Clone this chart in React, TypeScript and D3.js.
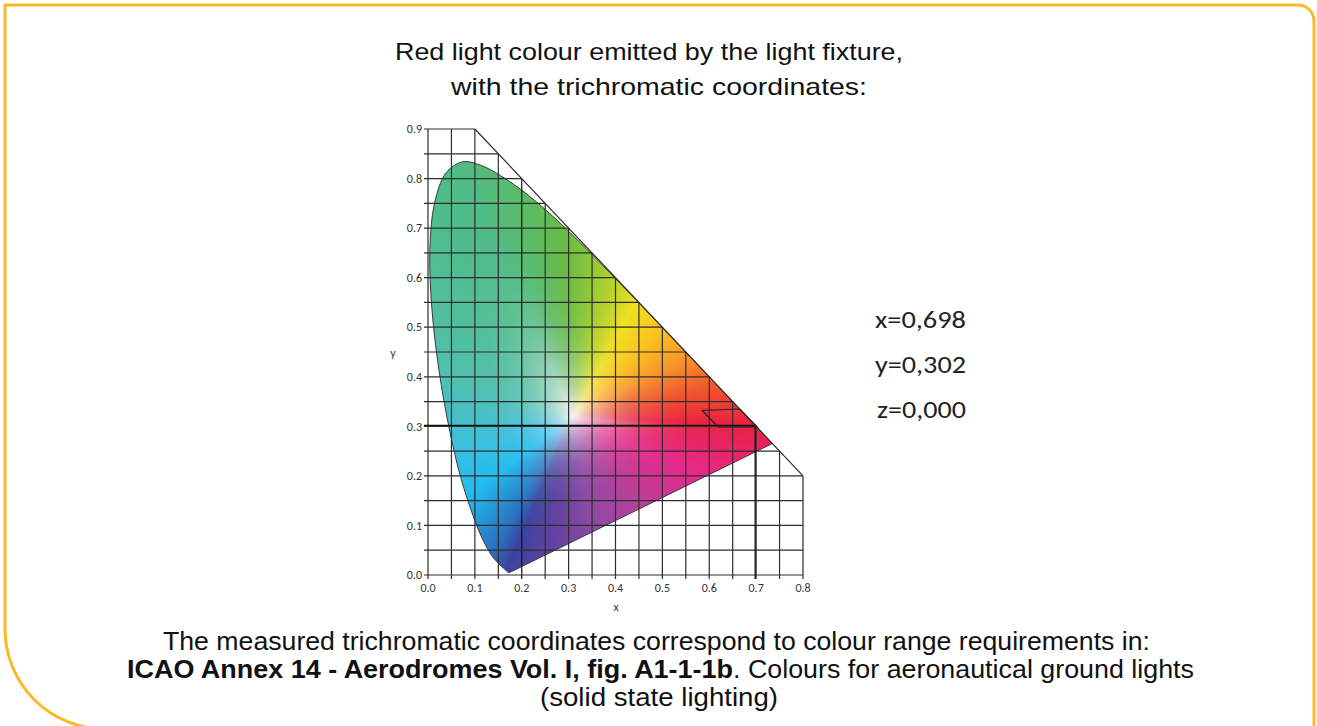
import React, { useMemo } from "react";
import * as d3 from "d3";

const W = 1317;
const H = 726;

// spectral locus of the CIE 1931 diagram, read along the edge of the coloured area
const locusX = [0.1741, 0.1733, 0.1726, 0.1714, 0.1689, 0.1644, 0.1566, 0.144, 0.1355, 0.1241, 0.1096, 0.0913, 0.0687, 0.0454, 0.0235, 0.0082, 0.0039, 0.0139, 0.0389, 0.0743, 0.1142, 0.1547, 0.1929, 0.2296, 0.2658, 0.3016, 0.3373, 0.3731, 0.4087, 0.4441, 0.4788, 0.5125, 0.5448, 0.5752, 0.6029, 0.627, 0.6658, 0.6915, 0.7079, 0.719, 0.726, 0.73, 0.7334, 0.7347];
const locusY = [0.005, 0.0048, 0.0048, 0.0051, 0.0069, 0.0109, 0.0177, 0.0297, 0.0399, 0.0578, 0.0868, 0.1327, 0.2007, 0.295, 0.4127, 0.5384, 0.6548, 0.7502, 0.812, 0.8338, 0.8262, 0.8059, 0.7816, 0.7543, 0.7243, 0.6923, 0.6589, 0.6245, 0.5896, 0.5547, 0.5202, 0.4866, 0.4544, 0.4242, 0.3965, 0.3725, 0.334, 0.3083, 0.292, 0.2809, 0.274, 0.27, 0.2666, 0.2653];

const xTickValues = [0, 0.1, 0.2, 0.3, 0.4, 0.5, 0.6, 0.7, 0.8];
const xTickLabels = ["0.0", "0.1", "0.2", "0.3", "0.4", "0.5", "0.6", "0.7", "0.8"];
const yTickValues = [0, 0.1, 0.2, 0.3, 0.4, 0.5, 0.6, 0.7, 0.8, 0.9];
const yTickLabels = ["0.0", "0.1", "0.2", "0.3", "0.4", "0.5", "0.6", "0.7", "0.8", "0.9"];
const gridX = [0, 0.05, 0.1, 0.15, 0.2, 0.25, 0.3, 0.35, 0.4, 0.45, 0.5, 0.55, 0.6, 0.65, 0.7, 0.75, 0.8];
const gridY = [0, 0.05, 0.1, 0.15, 0.2, 0.25, 0.3, 0.35, 0.4, 0.45, 0.5, 0.55, 0.6, 0.65, 0.7, 0.75, 0.8, 0.85, 0.9];

// ICAO red zone (solid state lighting)
const redZoneX = [0.585, 0.665, 0.702, 0.619];
const redZoneY = [0.332, 0.335, 0.299, 0.299];

const measuredX = 0.698;
const measuredY = 0.302;
const coordLabels = ["x=0,698", "y=0,302", "z=0,000"];

// colour wheel around the white point (angle in degrees -> colour)
const whiteX = 0.31;
const whiteY = 0.32;
const hueAngles = [9, 26, 42, 60, 76, 92, 102, 115, 137, 164, 196, 216, 238, 245, 258, 280, 308, 337, 351, 357];
const hueColors = ["#ef5030", "#f7962a", "#fcc020", "#f0e020", "#a8cf30", "#6abd42", "#5cbb60", "#4fbb85", "#50be98", "#50c0b0", "#38c0e0", "#20bcf0", "#2a70c0", "#3a44a0", "#6040a0", "#8c4aa5", "#b8409a", "#e62a8a", "#e8235e", "#ec2040"];

const xScale = d3.scaleLinear().domain([0, 0.8]).range([428, 803]);
const yScale = d3.scaleLinear().domain([0, 0.9]).range([575, 129]);

const topAt = (gx: number) => (gx <= 0.1 ? 0.9 : 1 - gx);
const rightAt = (gy: number) => (gy >= 0.9 ? 0.1 : Math.min(0.8, 1 - gy));

const hueColour = (a: number): string => {
  const n = hueAngles.length;
  for (let i = 0; i < n; i++) {
    const a0 = hueAngles[i];
    const a1 = i + 1 < n ? hueAngles[i + 1] : hueAngles[0] + 360;
    let aa = a;
    if (aa < a0) aa += 360;
    if (aa >= a0 && aa <= a1) {
      return d3.interpolateRgb(hueColors[i], hueColors[(i + 1) % n])((aa - a0) / (a1 - a0));
    }
  }
  return hueColors[0];
};

const App: React.FC = () => {
  const locusPts: [number, number][] = locusX.map((x, i) => [x, locusY[i]]);
  const locusPath =
    d3
      .line<[number, number]>()
      .x(d => xScale(d[0]))
      .y(d => yScale(d[1]))
      .curve(d3.curveCatmullRom)(locusPts) + "Z";

  const raster = useMemo(() => {
    const x0 = Math.floor(xScale(0)) - 2;
    const x1 = Math.ceil(xScale(0.75));
    const y0 = Math.floor(yScale(0.85));
    const y1 = Math.ceil(yScale(0)) + 2;
    const w = x1 - x0;
    const h = y1 - y0;
    const canvas = document.createElement("canvas");
    canvas.width = w;
    canvas.height = h;
    const ctx = canvas.getContext("2d");
    if (!ctx) return null;
    const img = ctx.createImageData(w, h);

    const poly = [...locusPts, locusPts[0]];
    const N = 720;
    const radii = new Float64Array(N);
    const cols: d3.RGBColor[] = [];
    for (let k = 0; k < N; k++) {
      const th = (k / N) * Math.PI * 2;
      const dx = Math.cos(th);
      const dy = Math.sin(th);
      let best = 1;
      for (let s = 0; s < poly.length - 1; s++) {
        const [ax, ay] = poly[s];
        const [bx, by] = poly[s + 1];
        const ex = bx - ax;
        const ey = by - ay;
        const den = dx * ey - dy * ex;
        if (Math.abs(den) < 1e-12) continue;
        const wx = ax - whiteX;
        const wy = ay - whiteY;
        const t = (wx * ey - wy * ex) / den;
        const u = (wx * dy - wy * dx) / den;
        if (t > 0 && u >= 0 && u <= 1 && t < best) best = t;
      }
      radii[k] = best;
      cols.push(d3.rgb(hueColour((k / N) * 360)));
    }

    const white = [246, 242, 244];
    for (let j = 0; j < h; j++) {
      const dy = yScale.invert(y0 + j + 0.5) - whiteY;
      for (let i = 0; i < w; i++) {
        const dx = xScale.invert(x0 + i + 0.5) - whiteX;
        let a = Math.atan2(dy, dx);
        if (a < 0) a += Math.PI * 2;
        const k = Math.min(N - 1, Math.floor((a / (Math.PI * 2)) * N));
        const t = Math.min(1, Math.sqrt(dx * dx + dy * dy) / radii[k]);
        const s = 1 - Math.pow(1 - t, 4);
        const c = cols[k];
        const p = (j * w + i) * 4;
        img.data[p] = white[0] * (1 - s) + c.r * s;
        img.data[p + 1] = white[1] * (1 - s) + c.g * s;
        img.data[p + 2] = white[2] * (1 - s) + c.b * s;
        img.data[p + 3] = 255;
      }
    }
    ctx.putImageData(img, 0, 0);
    return { href: canvas.toDataURL(), x: x0, y: y0, w, h };
  }, []);

  const gridStroke = "#2e2e2e";
  const tickFont = "Carlito, Lato, 'Open Sans', sans-serif";
  const textFont = "'Liberation Sans', Arial, sans-serif";
  const redZonePath = d3.line()(redZoneX.map((x, i) => [xScale(x), yScale(redZoneY[i])])) + "Z";

  return (
    <svg width={W} height={H} style={{ position: "absolute", left: 0, top: 0, background: "#fff" }}>
      <path
        d="M1314,740 V21 A16,16 0 0 0 1298,5 H5 V629 A100,100 0 0 0 105,729 H1314"
        fill="none"
        stroke="#fbb827"
        strokeWidth={3}
      />

      <g fontFamily={textFont} fontSize={24} fill="#111">
        <text x={395} y={60} textLength={508} lengthAdjust="spacingAndGlyphs">
          Red light colour emitted by the light fixture,
        </text>
        <text x={451} y={95} textLength={416} lengthAdjust="spacingAndGlyphs">
          with the trichromatic coordinates:
        </text>
      </g>

      <defs>
        <clipPath id="locus-clip">
          <path d={locusPath} />
        </clipPath>
      </defs>
      {raster && (
        <image
          href={raster.href}
          x={raster.x}
          y={raster.y}
          width={raster.w}
          height={raster.h}
          clipPath="url(#locus-clip)"
        />
      )}
      <path d={locusPath} fill="none" stroke="#3a3a3a" strokeWidth={1} />

      <g stroke={gridStroke} strokeWidth={1.2}>
        {gridX.map(gx => (
          <line
            key={"gx" + gx}
            x1={xScale(gx)}
            x2={xScale(gx)}
            y1={yScale(0) + 4}
            y2={yScale(topAt(gx))}
            stroke={gx === 0.2 ? "#111" : gridStroke}
          />
        ))}
        {gridY.map(gy => (
          <line key={"gy" + gy} x1={xScale(0) - 4} x2={xScale(rightAt(gy))} y1={yScale(gy)} y2={yScale(gy)} />
        ))}
        <line x1={xScale(0.1)} y1={yScale(0.9)} x2={xScale(0.8)} y2={yScale(0.2)} />
      </g>

      <g stroke="#111" strokeWidth={1.3}>
        <line x1={xScale(0) - 4} x2={xScale(measuredX)} y1={yScale(measuredY)} y2={yScale(measuredY)} />
        <line x1={xScale(measuredX)} x2={xScale(measuredX)} y1={yScale(0) + 4} y2={yScale(measuredY)} />
      </g>
      <path d={redZonePath} fill="none" stroke="#222" strokeWidth={1.2} />

      <g fontFamily={tickFont} fontSize={12} fill="#333">
        {yTickValues.map((v, i) => (
          <text key={"yt" + i} x={422} y={yScale(v)} dy="0.35em" textAnchor="end">
            {yTickLabels[i]}
          </text>
        ))}
        {xTickValues.map((v, i) => (
          <text key={"xt" + i} x={xScale(v)} y={592} textAnchor="middle">
            {xTickLabels[i]}
          </text>
        ))}
        <text x={393} y={357} textAnchor="middle">y</text>
        <text x={616} y={611} textAnchor="middle">x</text>
      </g>

      <g fontFamily={tickFont} fontSize={25} fill="#222">
        {coordLabels.map((t, i) => (
          <text key={t} x={i === 2 ? 877 : 875} y={328 + i * 45} textLength={i === 2 ? 89 : 91} lengthAdjust="spacingAndGlyphs">
            {t}
          </text>
        ))}
      </g>

      <g fontFamily={textFont} fontSize={25} fill="#111">
        <text x={163} y={650} textLength={987} lengthAdjust="spacingAndGlyphs">
          The measured trichromatic coordinates correspond to colour range requirements in:
        </text>
        <text x={127} y={678} fontWeight="bold" textLength={606} lengthAdjust="spacingAndGlyphs">
          ICAO Annex 14 - Aerodromes Vol. I, fig. A1-1-1b
        </text>
        <text x={733} y={678} textLength={461} lengthAdjust="spacingAndGlyphs">
          . Colours for aeronautical ground lights
        </text>
        <text x={540} y={706} textLength={238} lengthAdjust="spacingAndGlyphs">
          (solid state lighting)
        </text>
      </g>
    </svg>
  );
};

export default App;
